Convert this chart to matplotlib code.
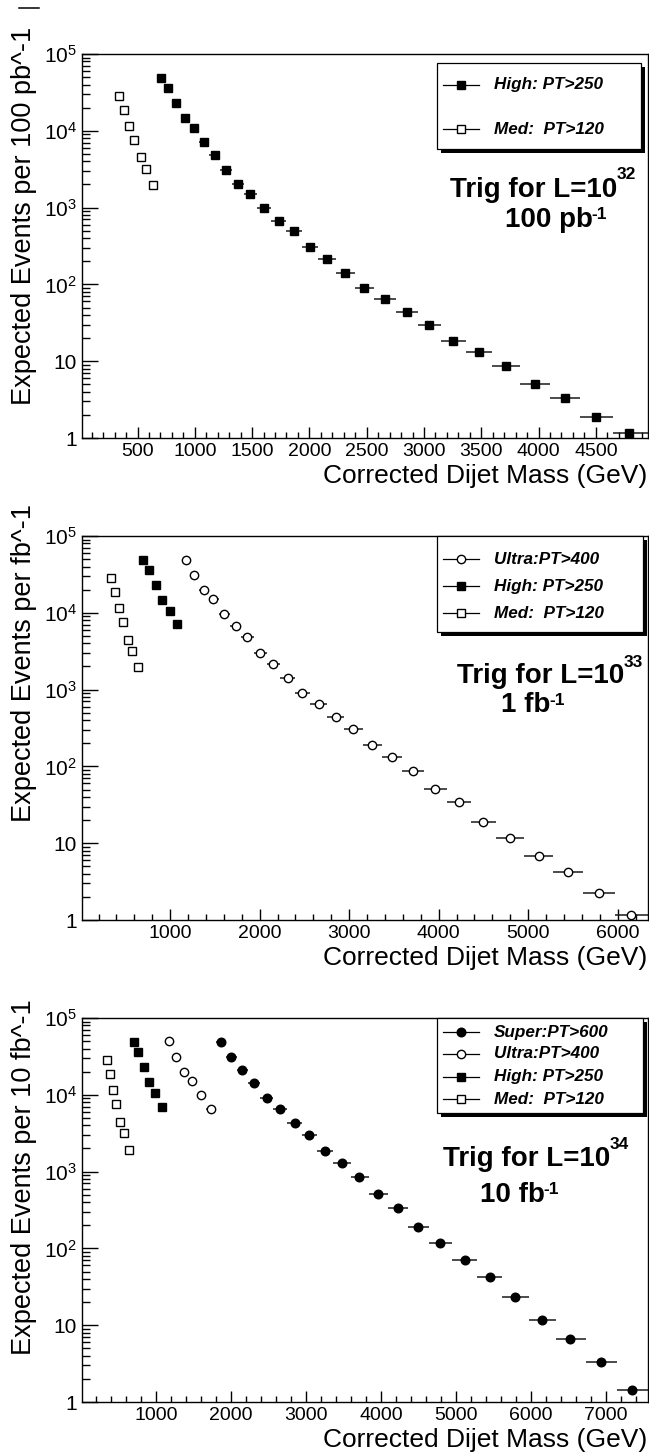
import matplotlib
matplotlib.use("Agg")
import matplotlib.pyplot as plt
import numpy as np
from matplotlib.patches import Rectangle
from matplotlib.ticker import (FixedLocator, FixedFormatter, MultipleLocator,
                               LogLocator, NullFormatter)

plt.rcParams['font.family'] = ['Liberation Sans', 'DejaVu Sans']
plt.rcParams['mathtext.fontset'] = 'custom'
plt.rcParams['mathtext.rm'] = 'Liberation Sans'
plt.rcParams['mathtext.it'] = 'Liberation Sans:italic'
plt.rcParams['mathtext.bf'] = 'Liberation Sans:bold'

# ---------------- data ----------------
# dijet-mass bin centres (GeV), shared by all trigger samples
bin_centers = [342, 383, 428, 472, 527, 577, 636, 702, 767, 839, 914, 993,
               1080, 1174, 1271, 1375, 1483, 1606, 1732, 1862, 2002, 2153,
               2312, 2478, 2658, 2849, 3047, 3256, 3479, 3713, 3965, 4228,
               4498, 4794, 5117, 5449, 5787, 6152, 6527, 6934, 7353]

# index of first bin for each trigger sample
MED_START, HIGH_START, ULTRA_START, SUPER_START = 0, 7, 13, 19

# panel 1 : 100 pb^-1
med_100pb = [28500, 18900, 11600, 7600, 4550, 3200, 1950]
high_100pb = [48900, 36200, 22900, 14600, 10850, 7100, 4910, 3070, 2010,
              1514, 990, 668, 494, 304, 211, 141, 90.4, 64.1, 43.2, 29.8,
              18.2, 13.1, 8.61, 5.02, 3.34, 1.89, 1.16]
# panel 2 : 1 fb^-1
med_1fb = [28300, 18800, 11600, 7550, 4480, 3190, 1945]
high_1fb = [48100, 35700, 22700, 14500, 10700, 7050]
ultra_1fb = [49100, 30700, 19950, 15070, 9700, 6700, 4910, 3010, 2130, 1416,
             914, 659, 438, 304, 191, 132, 87.1, 50.9, 34.6, 19.0, 11.6,
             6.89, 4.17, 2.26, 1.16]
# panel 3 : 10 fb^-1
med_10fb = [28600, 18700, 11500, 7540, 4460, 3160, 1900]
high_10fb = [48900, 36100, 22900, 14500, 10600, 6950]
ultra_10fb = [49800, 30700, 20100, 15100, 9800, 6550]
super_10fb = [49300, 30700, 21300, 14100, 9040, 6480, 4280, 3010, 1830, 1282,
              861, 504, 336, 191, 116, 70.6, 43.0, 23.0, 11.6, 6.58, 3.27,
              1.42]

legend_labels = {
    'super': 'Super:PT>600',
    'ultra': 'Ultra:PT>400',
    'high': 'High: PT>250',
    'med': 'Med:  PT>120',
}
y_titles = ['Expected Events per 100 pb^-1',
            'Expected Events per fb^-1',
            'Expected Events per 10 fb^-1']
x_title = 'Corrected Dijet Mass (GeV)'
# (main text, superscript) for the two lines of each luminosity label
lumi_text = [(('Trig for L=10', '32'), ('100 pb', '-1')),
             (('Trig for L=10', '33'), ('1 fb', '-1')),
             (('Trig for L=10', '34'), ('10 fb', '-1'))]
y_tick_values = [1, 10, 1e2, 1e3, 1e4, 1e5]
y_tick_labels = ['1', '10', r'$\mathregular{10^{2}}$', r'$\mathregular{10^{3}}$',
                 r'$\mathregular{10^{4}}$', r'$\mathregular{10^{5}}$']

# ---------------- styles ----------------
STYLE = {
    'med':   dict(marker='s', ms=5.6, mfc='white', mec='black', mew=1.0),
    'high':  dict(marker='s', ms=5.8, mfc='black', mec='black', mew=1.0),
    'ultra': dict(marker='o', ms=6.0, mfc='white', mec='black', mew=1.0),
    'super': dict(marker='o', ms=6.2, mfc='black', mec='black', mew=1.0),
}

c = np.array(bin_centers, dtype=float)
edges = np.concatenate([[c[0] - (c[1] - c[0]) / 2], (c[1:] + c[:-1]) / 2,
                        [c[-1] + (c[-1] - c[-2]) / 2]])

W, H = 649, 1455
fig = plt.figure(figsize=(W / 100, H / 100), dpi=100)
fig.patch.set_facecolor('white')


def px_axes(left, top, right, bottom):
    return fig.add_axes([left / W, 1 - bottom / H, (right - left) / W,
                         (bottom - top) / H])


def draw_series(ax, start, values, key):
    n = len(values)
    x = c[start:start + n]
    lo = x - edges[start:start + n]
    hi = edges[start + 1:start + n + 1] - x
    ax.errorbar(x, values, xerr=[lo, hi], fmt='none', ecolor='#1a1a1a',
                elinewidth=1.1, capsize=0, zorder=2)
    ax.plot(x, values, linestyle='none', zorder=3, **STYLE[key])
    return edges[start + n]


def setup(ax, xmin, xmax, major, minor):
    ax.set_yscale('log')
    ax.set_ylim(1, 1e5)
    ax.set_xlim(xmin, xmax)
    ax.xaxis.set_major_locator(MultipleLocator(major))
    ax.xaxis.set_minor_locator(MultipleLocator(minor))
    ax.yaxis.set_major_locator(FixedLocator(y_tick_values))
    ax.yaxis.set_major_formatter(FixedFormatter(y_tick_labels))
    ax.yaxis.set_minor_locator(LogLocator(base=10, subs=np.arange(2, 10)))
    ax.yaxis.set_minor_formatter(NullFormatter())
    ax.tick_params(axis='both', which='both', direction='in', top=False,
                   right=False, width=1.0, color='black')
    ax.tick_params(axis='y', which='major', length=11.5, labelsize=15, pad=3.5)
    ax.tick_params(axis='y', which='minor', length=6)
    ax.tick_params(axis='x', which='major', length=8, labelsize=14, pad=3.5)
    ax.tick_params(axis='x', which='minor', length=4.2)
    for s in ax.spines.values():
        s.set_linewidth(1.0)
        s.set_color('black')


panels = [
    dict(top=54, series=[('med', MED_START, med_100pb),
                         ('high', HIGH_START, high_100pb)],
         major=500, minor=100,
         legend=['high', 'med'], leg_box=(437, 63, 641, 149), leg_y=[85, 129],
         text_pos=[(450, 197), (505, 227)], sup_off=[18, 8]),
    dict(top=536, series=[('med', MED_START, med_1fb),
                          ('high', HIGH_START, high_1fb),
                          ('ultra', ULTRA_START, ultra_1fb)],
         major=1000, minor=200,
         legend=['ultra', 'high', 'med'], leg_box=(437, 536, 643, 632),
         leg_y=[559, 586, 613], text_pos=[(457, 683), (501, 712)],
         sup_off=[16, 7]),
    dict(top=1018, series=[('med', MED_START, med_10fb),
                           ('high', HIGH_START, high_10fb),
                           ('ultra', ULTRA_START, ultra_10fb),
                           ('super', SUPER_START, super_10fb)],
         major=1000, minor=200,
         legend=['super', 'ultra', 'high', 'med'], leg_box=(437, 1018, 643, 1113),
         leg_y=[1032, 1054, 1077, 1099], text_pos=[(443, 1166), (480, 1202)],
         sup_off=[17, 8]),
]
ytitle_centers = [216, 663, 1177]

AX_LEFT, AX_RIGHT, AX_H = 82, 648, 384

# overlay in pixel coordinates (y downwards) for annotations
ov = fig.add_axes([0, 0, 1, 1], zorder=10)
ov.set_xlim(0, W)
ov.set_ylim(H, 0)
ov.axis('off')
ov.patch.set_visible(False)

sup_jobs = []
for i, p in enumerate(panels):
    ax = px_axes(AX_LEFT, p['top'], AX_RIGHT, p['top'] + AX_H)
    xmax = 0
    for key, start, vals in p['series']:
        xmax = max(xmax, draw_series(ax, start, vals, key))
    setup(ax, 15, xmax, p['major'], p['minor'])

    bottom = p['top'] + AX_H
    ov.text(647, bottom + 38, x_title, ha='right', va='center', fontsize=19)
    ov.text(24, ytitle_centers[i], y_titles[i], rotation=90, ha='center',
            va='center', fontsize=19.5)

    # legend box with ROOT-like black shadow
    x0, y0, x1, y1 = p['leg_box']
    ov.add_patch(Rectangle((x0 + 4, y0 + 4), x1 - x0, y1 - y0,
                           facecolor='black', edgecolor='none', zorder=1))
    ov.add_patch(Rectangle((x0, y0), x1 - x0, y1 - y0, facecolor='white',
                           edgecolor='black', lw=0.9, zorder=2))
    for key, y in zip(p['legend'], p['leg_y']):
        ov.plot([443, 479], [y, y], color='black', lw=0.9, zorder=3)
        ov.plot([461], [y], linestyle='none', zorder=4, **STYLE[key])
        ov.text(494, y, legend_labels[key], ha='left', va='center',
                fontsize=12.3, fontweight='bold', fontstyle='italic', zorder=4)

    for (main, sup), (tx, ty), off in zip(lumi_text[i], p['text_pos'],
                                          p['sup_off']):
        t = ov.text(tx, ty, main, ha='left', va='baseline', fontsize=20,
                    fontweight='bold')
        sup_jobs.append((t, sup, ty - off))

# place superscripts right after their base text
fig.canvas.draw()
inv = ov.transData.inverted()
for t, sup, yb in sup_jobs:
    bb = t.get_window_extent()
    x_end = inv.transform((bb.x1, bb.y0))[0]
    ov.text(x_end - 1.0, yb, sup, ha='left', va='baseline', fontsize=12.5,
            fontweight='bold')

# small stray dash at the top-left corner of the original page
ov.plot([19, 39], [8, 8], color='black', lw=1.1)

fig.savefig('out.png', dpi=100, facecolor='white')
